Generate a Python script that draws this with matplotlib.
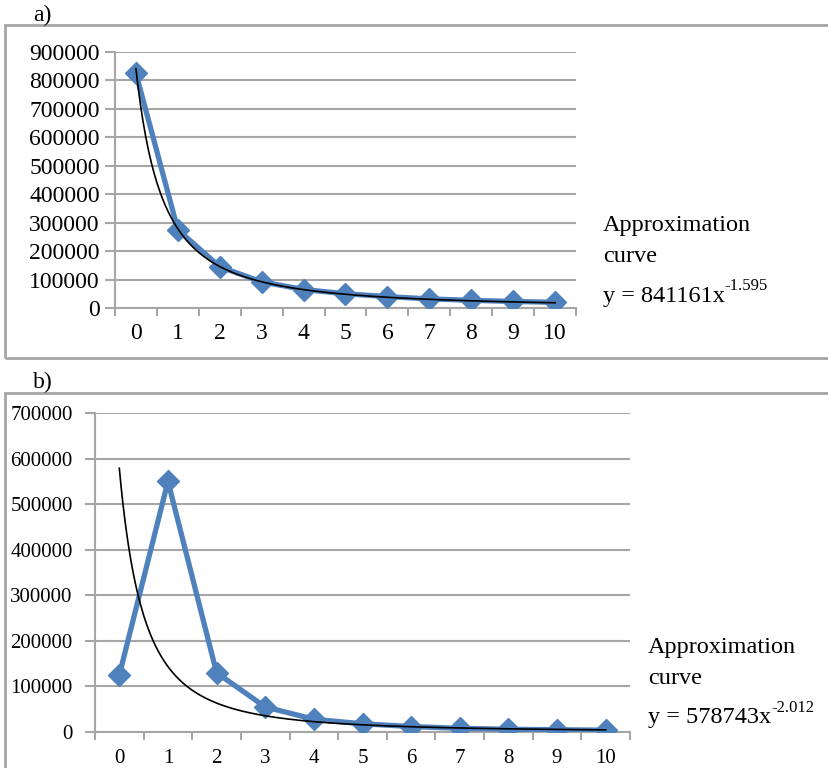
import numpy as np
import matplotlib.pyplot as plt
from matplotlib.patches import Rectangle

plt.rcParams['font.family'] = ['Liberation Serif', 'DejaVu Serif']

# data
categories = list(range(11))
values_a = [825000, 275000, 145000, 92000, 65000, 50000, 40000, 32000, 27000, 23000, 20000]
values_b = [125000, 550000, 130000, 55000, 28000, 18000, 12000, 8000, 6000, 5000, 4000]
# power trendlines y = k * x^p, x counted from 1
trend_a = (841161, -1.595)
trend_b = (578743, -2.012)
yticks_a = list(range(0, 900001, 100000))
yticks_b = list(range(0, 700001, 100000))

BLUE = '#4F81BD'
GRID = '#A6A6A6'
FS = 17

fig = plt.figure(figsize=(8.29, 7.68), dpi=100)


def panel(rect, values, trend, yticks, fs, ypad, xpad):
    ax = fig.add_axes(rect)
    x = np.array(categories)
    ax.plot(x, values, color=BLUE, lw=3.8, marker='D', ms=11, mfc=BLUE, mec=BLUE, zorder=3)
    xs = np.linspace(x[0], x[-1], 300)
    ax.plot(xs, trend[0] * (xs + 1) ** trend[1], color='black', lw=1.2, zorder=4)
    ax.set_xlim(-0.5, len(categories) - 0.5)
    ax.set_ylim(yticks[0], yticks[-1])
    ax.set_yticks(yticks)
    ax.set_yticklabels([str(v) for v in yticks], fontsize=fs)
    ax.set_xticks(x)
    ax.set_xticklabels([str(c) for c in categories], fontsize=fs)
    ax.set_xticks(np.arange(-0.5, len(categories)), minor=True)
    ax.tick_params(axis='x', which='major', length=0, pad=xpad)
    ax.tick_params(axis='x', which='minor', length=6, width=1.5, color=GRID, direction='out')
    ax.tick_params(axis='y', length=7, width=1.5, color=GRID, direction='out', pad=ypad)
    ax.grid(axis='y', color=GRID, lw=1.5)
    ax.set_axisbelow(True)
    for s in ['top', 'right']:
        ax.spines[s].set_visible(False)
    for s in ['left', 'bottom']:
        ax.spines[s].set_color(GRID)
        ax.spines[s].set_linewidth(1.5)
    return ax


W, H = 829, 768

def fr(x0, y0, x1, y1):
    return [x0 / W, 1 - y1 / H, (x1 - x0) / W, (y1 - y0) / H]

ax_a = panel(fr(115, 52, 576, 308), values_a, trend_a, yticks_a, 17, 4, 11)
ax_b = panel(fr(95, 413, 630, 732), values_b, trend_b, yticks_b, 15, 9, 12)

# panel frames
fig.patches.append(Rectangle((5 / W, 1 - 358 / H), 830 / W, 333 / H, transform=fig.transFigure,
                             fill=False, ec=GRID, lw=2))
fig.patches.append(Rectangle((5 / W, -0.05), 830 / W, 1 - 393 / H + 0.05, transform=fig.transFigure,
                             fill=False, ec=GRID, lw=2))

fig.text(33 / W, 1 - 15 / H, 'a)', fontsize=FS, va='center')
fig.text(33 / W, 1 - 382 / H, 'b)', fontsize=FS, va='center')


def equation(ax, x0, y0, k, p):
    fig.text(x0 / W, 1 - y0 / H, 'Approximation', fontsize=FS + 0.5, va='center')
    fig.text(x0 / W, 1 - (y0 + 30) / H, 'curve', fontsize=FS + 0.5, va='center')
    t = fig.text(x0 / W, 1 - (y0 + 70) / H, 'y = %dx' % k, fontsize=FS + 0.5, va='center')
    ax.annotate('%.3f' % p, xy=(1.0, 0.58), xycoords=t, fontsize=12, va='bottom', ha='left',
                annotation_clip=False)


equation(ax_a, 603, 226, trend_a[0], trend_a[1])
equation(ax_b, 648, 648, trend_b[0], trend_b[1])

fig.savefig('out.png', dpi=100)
